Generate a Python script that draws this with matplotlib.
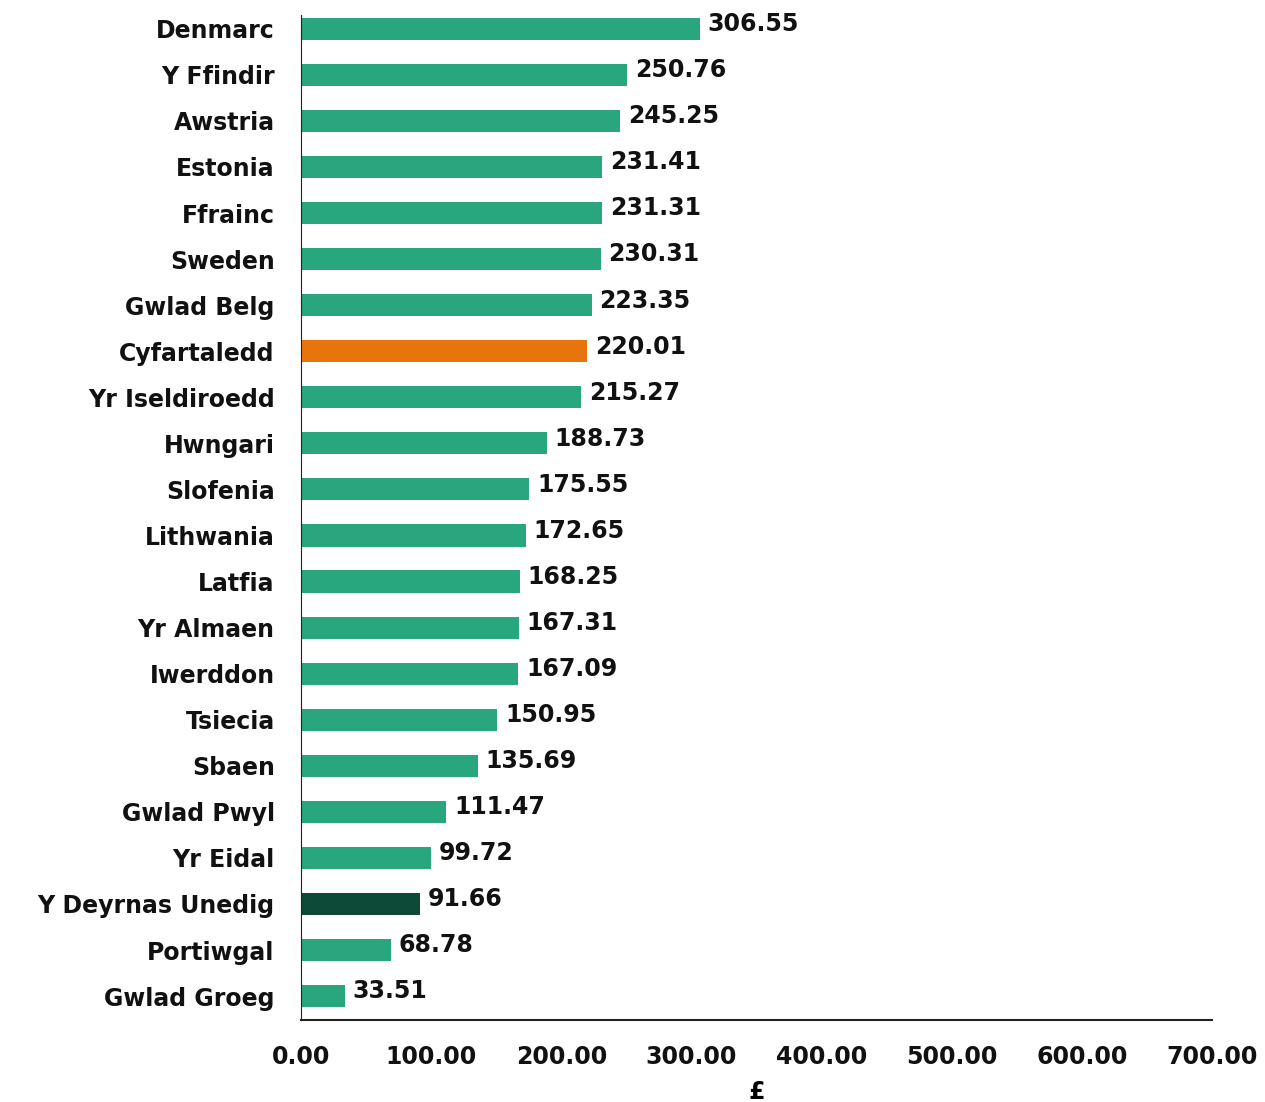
import matplotlib
matplotlib.use('Agg')
import matplotlib.pyplot as plt

countries = ['Denmarc', 'Y Ffindir', 'Awstria', 'Estonia', 'Ffrainc', 'Sweden',
             'Gwlad Belg', 'Cyfartaledd', 'Yr Iseldiroedd', 'Hwngari', 'Slofenia',
             'Lithwania', 'Latfia', 'Yr Almaen', 'Iwerddon', 'Tsiecia', 'Sbaen',
             'Gwlad Pwyl', 'Yr Eidal', 'Y Deyrnas Unedig', 'Portiwgal', 'Gwlad Groeg']
values = [306.55, 250.76, 245.25, 231.41, 231.31, 230.31, 223.35, 220.01, 215.27,
          188.73, 175.55, 172.65, 168.25, 167.31, 167.09, 150.95, 135.69, 111.47,
          99.72, 91.66, 68.78, 33.51]
xticks = [0, 100, 200, 300, 400, 500, 600, 700]

green = '#29A67E'
colors = []
for c in countries:
    if c == 'Cyfartaledd':
        colors.append('#E8740E')
    elif c == 'Y Deyrnas Unedig':
        colors.append('#0D4A37')
    else:
        colors.append(green)

plt.rcParams['font.family'] = ['DejaVu Sans']
plt.rcParams['font.weight'] = 'bold'

fig = plt.figure(figsize=(12.65, 11.02), dpi=100)
ax = fig.add_axes([0.238, 0.0744, 0.72, 0.9120])

pos = list(range(len(countries)))
ax.barh(pos, values, height=0.48, color=colors)
for p, v in zip(pos, values):
    ax.text(v + 6, p - 0.1, f'{v:.2f}', va='center', ha='left',
            fontsize=17, fontweight='bold', color='#111111')

ax.set_ylim(21.52, -0.30)
ax.set_xlim(0, 700)
ax.set_yticks(pos)
ax.set_yticklabels(countries, fontsize=17, fontweight='bold', color='#111111')
ax.set_xticks(xticks)
ax.set_xticklabels([f'{t:.2f}' for t in xticks], fontsize=17, fontweight='bold', color='#111111')
ax.tick_params(axis='both', length=0)
ax.tick_params(axis='y', pad=19)
ax.tick_params(axis='x', pad=18)
ax.set_xlabel('£', fontsize=17, fontweight='bold', labelpad=8)

for s in ['top', 'right']:
    ax.spines[s].set_visible(False)
ax.spines['left'].set_color('#222222')
ax.spines['bottom'].set_color('#222222')
ax.spines['bottom'].set_linewidth(1.5)

fig.savefig('out.png', dpi=100)
